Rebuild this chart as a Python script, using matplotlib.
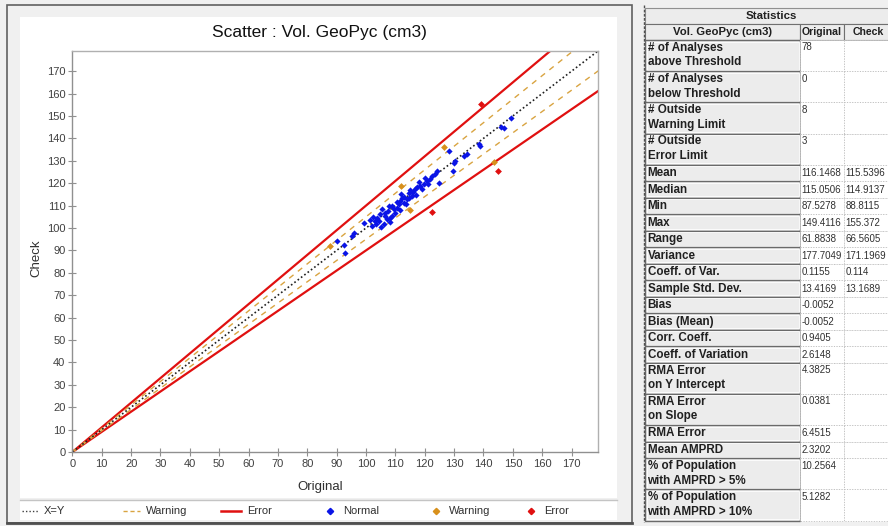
import matplotlib
matplotlib.use("Agg")
import matplotlib.pyplot as plt
from matplotlib.patches import Rectangle
import numpy as np

plt.rcParams['font.family'] = ['Liberation Sans', 'DejaVu Sans']

# ---------------- data ----------------
normal_orig = [90.1, 92.4, 92.9, 95.2, 96.0, 99.2, 102.0, 103.2, 103.7, 104.9,
               106.0, 107.1, 108.3, 108.9, 105.4, 106.6, 107.7, 109.4, 110.6, 111.1,
               111.7, 112.3, 112.8, 114.0, 114.5, 115.7, 116.8, 117.4, 118.5, 119.6,
               120.8, 121.9, 122.5, 123.6, 124.2, 124.8, 128.2, 129.9, 130.4, 129.5,
               133.3, 134.4, 138.4, 138.9, 145.8, 146.9, 149.4,
               101.5, 102.5, 103.5, 104.5, 105.0, 106.5, 107.5, 108.0, 109.0, 110.0,
               110.5, 111.5, 112.0, 113.0, 113.5, 114.5, 115.0, 116.0, 117.0, 118.0,
               119.0, 120.0, 121.0]
normal_check = [94.2, 92.4, 88.8, 96.4, 97.6, 102.4, 100.9, 103.1, 104.6, 106.1,
                101.6, 103.9, 104.6, 105.4, 108.3, 106.9, 109.8, 108.3, 109.1, 110.6,
                112.1, 113.6, 111.3, 112.8, 115.8, 114.3, 117.3, 118.5, 118.8, 119.5,
                121.0, 121.8, 123.3, 124.0, 125.5, 120.3, 134.5, 129.2, 130.0, 125.5,
                132.2, 133.0, 137.5, 136.7, 144.9, 144.5, 149.1,
                103.5, 105.0, 101.8, 103.0, 100.5, 105.5, 107.8, 102.8, 110.0, 106.8,
                111.5, 108.0, 115.0, 114.0, 110.5, 113.5, 117.0, 116.0, 114.8, 120.5,
                117.5, 122.5, 119.5]
warn_orig = [87.6, 112.0, 115.1, 126.7, 143.5]
warn_check = [91.9, 118.8, 108.0, 136.0, 129.6]
err_orig = [122.6, 139.0, 145.1]
err_check = [107.0, 155.4, 125.4]

warning_pct = 0.05
error_pct = 0.10
axis_max = 179
ticks = list(range(0, 171, 10))

stat_labels = ["# of Analyses\nabove Threshold", "# of Analyses\nbelow Threshold",
               "# Outside\nWarning Limit", "# Outside\nError Limit",
               "Mean", "Median", "Min", "Max", "Range", "Variance", "Coeff. of Var.",
               "Sample Std. Dev.", "Bias", "Bias (Mean)", "Corr. Coeff.",
               "Coeff. of Variation", "RMA Error\non Y Intercept", "RMA Error\non Slope",
               "RMA Error", "Mean AMPRD", "% of Population\nwith AMPRD > 5%",
               "% of Population\nwith AMPRD > 10%"]
stat_orig = ["78", "0", "8", "3", "116.1468", "115.0506", "87.5278", "149.4116",
             "61.8838", "177.7049", "0.1155", "13.4169", "-0.0052", "-0.0052",
             "0.9405", "2.6148", "4.3825", "0.0381", "6.4515", "2.3202",
             "10.2564", "5.1282"]
stat_check = ["", "", "", "", "115.5396", "114.9137", "88.8115", "155.372",
              "66.5605", "171.1969", "0.114", "13.1689", "", "", "", "", "", "",
              "", "", "", ""]

# ---------------- figure ----------------
W, H = 888, 526
fig = plt.figure(figsize=(W / 100, H / 100), dpi=100, facecolor='#f0f0f0')

bg = fig.add_axes([0, 0, 1, 1], zorder=0)
bg.set_xlim(0, W)
bg.set_ylim(H, 0)
bg.axis('off')

# chart frame
bg.add_patch(Rectangle((7, 5), 625, 518, facecolor='#f0f0f0', edgecolor='#606060', lw=1.2))
bg.add_patch(Rectangle((20, 17), 597, 481, facecolor='white', edgecolor='none'))
bg.add_patch(Rectangle((20, 501), 597, 19, facecolor='white', edgecolor='none'))
bg.plot([20, 617], [499.5, 499.5], color='#c4c4c4', lw=1)
bg.plot([7, 632], [523, 523], color='#505050', lw=2)

bg.text(319, 33, "Scatter : Vol. GeoPyc (cm3)", ha='center', va='center',
        fontsize=12.5, color='#111111')
bg.text(320, 487, "Original", ha='center', va='center', fontsize=9.5, color='#303030')
bg.text(36, 258, "Check", ha='center', va='center', fontsize=9.5, color='#303030',
        rotation=90)

# ---------------- table ----------------
x0, x1, x2, x3 = 645, 800, 844, 905
hdr_bg = '#ececec'
bg.plot([643.5, 643.5], [5, 522], color='#505050', lw=1, ls=(0, (2, 1)))
bg.add_patch(Rectangle((x0, 8), x3 - x0, 15.5, facecolor=hdr_bg, edgecolor='#909090', lw=0.8))
bg.text(771, 16, "Statistics", ha='center', va='center',
        fontsize=8.2, fontweight='bold', color='#202020')
y = 23.5
hdr_cells = [(x0, x1, "Vol. GeoPyc (cm3)", 8.2, (x0 + x1) / 2),
             (x1, x2, "Original", 7.6, (x1 + x2) / 2),
             (x2, x3, "Check", 7.6, 868)]
for xa, xb, txt, fs, xc in hdr_cells:
    bg.add_patch(Rectangle((xa, y), xb - xa, 16.5, facecolor=hdr_bg, edgecolor='#707070', lw=0.8))
    bg.text(xc, y + 8.5, txt, ha='center', va='center',
            fontsize=fs, fontweight='bold', color='#202020')
y = 40
single, double = 16.5, 31.2
lab_fs, val_fs = 8.4, 7.0
for lab, vo, vc in zip(stat_labels, stat_orig, stat_check):
    two = "\n" in lab
    h = double if two else single
    bg.add_patch(Rectangle((x0, y), x1 - x0, h, facecolor=hdr_bg, edgecolor='#6a6a6a', lw=1.0))
    bg.add_patch(Rectangle((x0 + 1.5, y + 1.5), x1 - x0 - 3, h - 3, facecolor='none',
                           edgecolor='white', lw=0.6))
    bg.add_patch(Rectangle((x1, y), x2 - x1, h, facecolor='white', edgecolor='#c0c0c0',
                           lw=0.7, ls=':'))
    bg.add_patch(Rectangle((x2, y), x3 - x2, h, facecolor='white', edgecolor='#c0c0c0',
                           lw=0.7, ls=':'))
    if two:
        bg.text(x0 + 2.5, y + 1.8, lab, ha='left', va='top', fontsize=lab_fs, fontweight='bold',
                color='#202020', linespacing=1.28)
        bg.text(x1 + 1.5, y + 2.5, vo, ha='left', va='top', fontsize=val_fs, color='#303030')
        bg.text(x2 + 1.5, y + 2.5, vc, ha='left', va='top', fontsize=val_fs, color='#303030')
    else:
        bg.text(x0 + 2.5, y + h / 2, lab, ha='left', va='center', fontsize=lab_fs,
                fontweight='bold', color='#202020')
        bg.text(x1 + 1.5, y + h / 2, vo, ha='left', va='center', fontsize=val_fs, color='#303030')
        bg.text(x2 + 1.5, y + h / 2, vc, ha='left', va='center', fontsize=val_fs, color='#303030')
    y += h

# ---------------- scatter axes ----------------
L, R, T, B = 72.4, 598, 51, 452
ax = fig.add_axes([L / W, 1 - B / H, (R - L) / W, (B - T) / H], zorder=2)
ax.set_facecolor('white')
ax.set_xlim(0, axis_max)
ax.set_ylim(0, axis_max)

xs = np.array([0, axis_max * 1.2])
c_err = '#e01010'
c_warn = '#d9a441'
c_norm = '#0a14e6'
c_wpt = '#d8901c'
ax.plot(xs, xs * (1 + error_pct), color=c_err, lw=1.6, zorder=2)
ax.plot(xs, xs * (1 - error_pct), color=c_err, lw=1.6, zorder=2)
ax.plot(xs, xs * (1 + warning_pct), color=c_warn, lw=1, ls=(0, (4, 4)), zorder=2)
ax.plot(xs, xs * (1 - warning_pct), color=c_warn, lw=1, ls=(0, (4, 4)), zorder=2)
ax.plot(xs, xs, color='#202020', lw=1.2, ls=(0, (1, 1.5)), zorder=2)

ax.scatter(normal_orig, normal_check, marker='D', s=10, color=c_norm, lw=0, zorder=3)
ax.scatter(warn_orig, warn_check, marker='D', s=12, color=c_wpt, lw=0, zorder=3)
ax.scatter(err_orig, err_check, marker='D', s=12, color=c_err, lw=0, zorder=3)

ax.set_xticks(ticks)
ax.set_yticks(ticks)
ax.tick_params(direction='inout', length=6, width=0.8, color='#909090',
               labelsize=8, labelcolor='#404040', pad=2)
for s in ax.spines.values():
    s.set_color('#b0b0b0')
    s.set_linewidth(1)
ax.spines['left'].set_color('#909090')
ax.spines['bottom'].set_color('#909090')

# ---------------- legend (drawn in the strip below the chart) ----------------
leg_y = 511
leg_fs = 8
leg_items = [
    ("line", dict(color='#404040', lw=1, ls=(0, (1, 1.5))), 22, 38, "X=Y"),
    ("line", dict(color=c_warn, lw=1, ls=(0, (3, 2))), 123, 140, "Warning"),
    ("line", dict(color=c_err, lw=1.8), 221, 241, "Error"),
    ("mark", dict(color=c_norm), 330, None, "Normal"),
    ("mark", dict(color=c_wpt), 436, None, "Warning"),
    ("mark", dict(color=c_err), 531, None, "Error"),
]
for kind, style, xa, xb, txt in leg_items:
    if kind == "line":
        bg.plot([xa, xb], [leg_y, leg_y], **style)
        tx = xb + 6
    else:
        bg.plot([xa], [leg_y], marker='D', markersize=3.2, ls='none', **style)
        tx = xa + 13
    bg.text(tx, leg_y, txt, ha='left', va='center', fontsize=leg_fs, color='#303030')

fig.savefig("out.png", dpi=100, facecolor=fig.get_facecolor())
